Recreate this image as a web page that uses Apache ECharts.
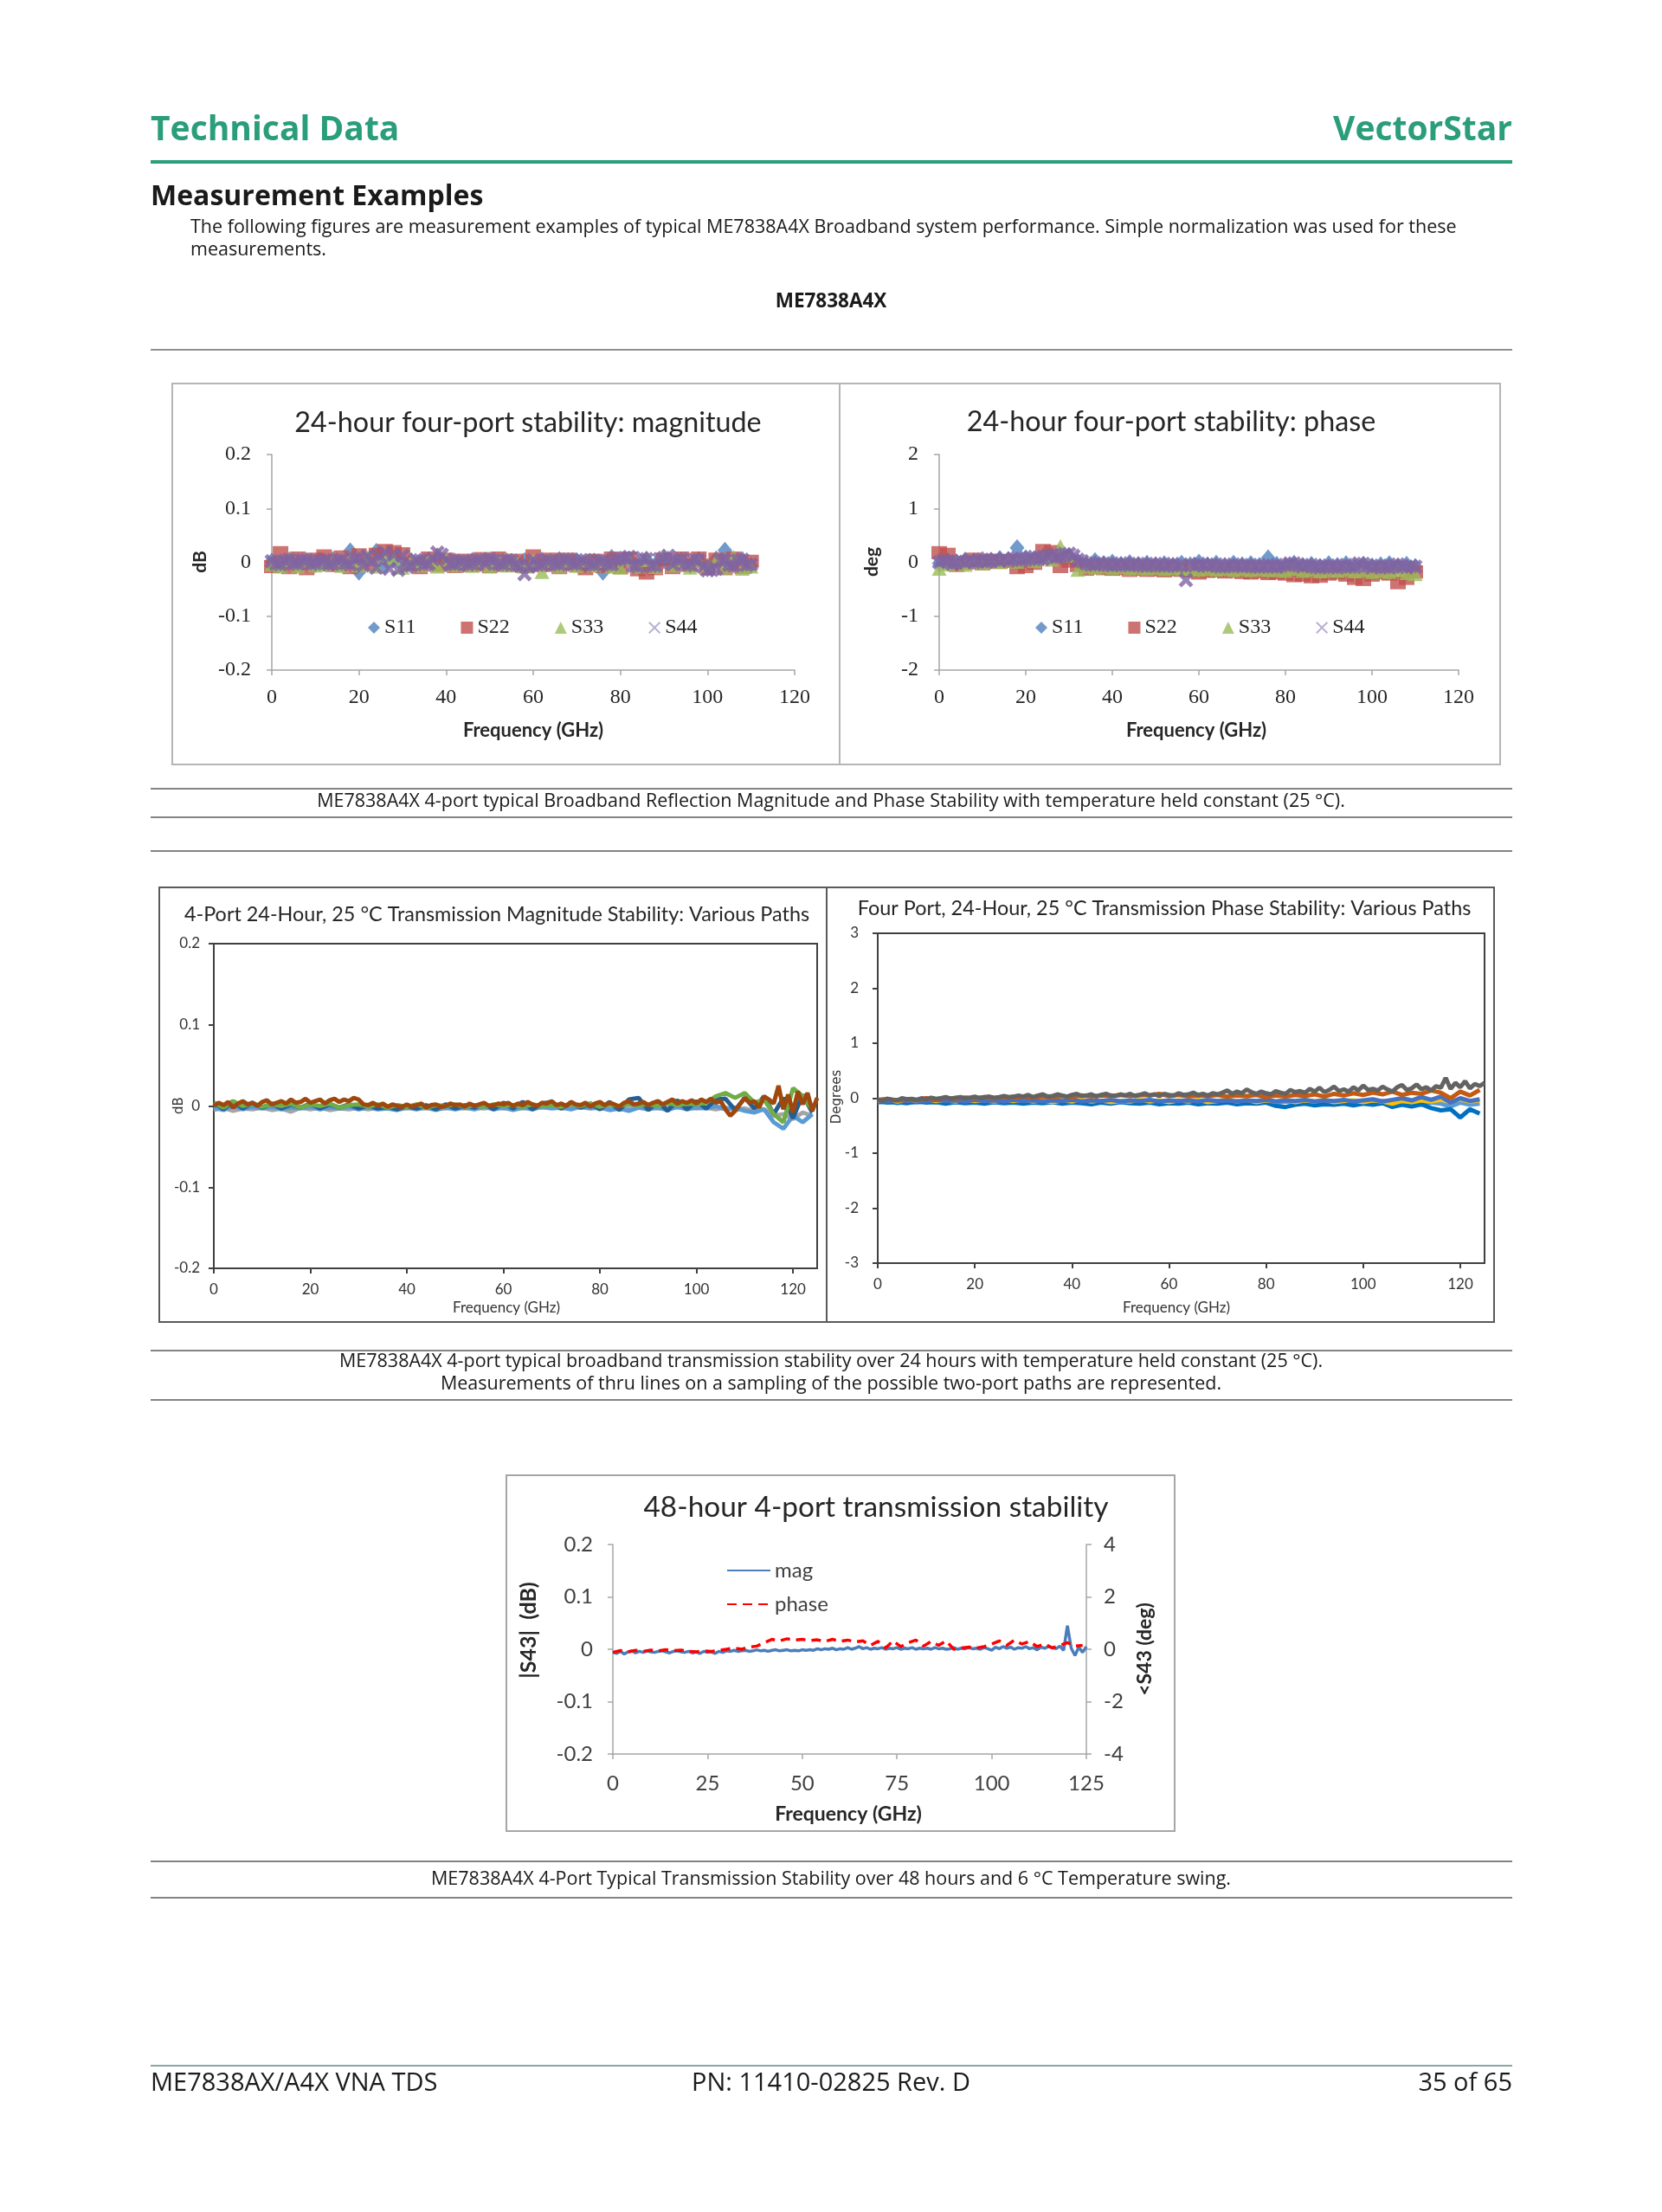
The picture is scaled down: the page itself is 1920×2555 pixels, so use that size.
<!DOCTYPE html>
<html><head><meta charset="utf-8">
<script src="https://cdn.jsdelivr.net/npm/echarts@6/dist/echarts.min.js"></script>
<style>html,body{margin:0;padding:0;background:#fff;}#c{width:1920px;height:2555px;}</style>
</head><body><div id="c"></div><script>
// ---------- DATA ----------
const freqR = [0,2,4,6,8,10,12,14,16,18,20,22,24,26,28,30,32,34,36,38,40,42,44,46,48,50,52,54,56,58,60,62,64,66,68,70,72,74,76,78,80,82,84,86,88,90,92,94,96,98,100,102,104,106,108,110];
const freqR1 = [0,1,2,3,4,5,6,7,8,9,10,11,12,13,14,15,16,17,18,19,20,21,22,23,24,25,26,27,28,29,30,31,32,33,34,35,36,37,38,39,40,41,42,43,44,45,46,47,48,49,50,51,52,53,54,55,56,57,58,59,60,61,62,63,64,65,66,67,68,69,70,71,72,73,74,75,76,77,78,79,80,81,82,83,84,85,86,87,88,89,90,91,92,93,94,95,96,97,98,99,100,101,102,103,104,105,106,107,108,109,110];
const magS11 = [0.002,-0.003,0.004,-0.002,0.003,-0.004,0.002,0.005,-0.003,0.021,
 -0.018,0.004,0.020,-0.006,0.008,-0.004,0.003,-0.002,0.004,0.006,
 -0.003,0.002,-0.004,0.003,-0.002,0.004,-0.003,0.002,-0.004,0.003,
 -0.005,0.004,-0.003,0.005,-0.002,0.003,-0.004,0.002,-0.018,0.009,
 -0.004,0.006,-0.003,0.004,-0.005,0.003,-0.002,0.004,-0.006,0.005,
 -0.008,0.006,0.022,-0.004,0.005,-0.006];
const magS22 = [-0.008,0.018,-0.010,0.008,-0.012,0.006,0.012,-0.006,0.010,-0.010,
 0.014,-0.004,0.015,0.022,0.020,0.016,-0.004,-0.010,0.008,-0.006,
 0.006,-0.008,0.004,-0.006,0.007,-0.008,0.008,-0.006,0.004,-0.008,
 0.012,-0.006,0.006,-0.010,0.006,-0.006,-0.012,0.004,-0.008,0.008,
 -0.010,0.008,-0.014,-0.020,-0.012,0.006,-0.010,0.008,-0.006,0.008,
 -0.012,0.006,-0.012,0.008,-0.010,0.002];
const magS33 = [-0.004,-0.008,0.004,-0.008,0.002,-0.006,-0.004,0.003,-0.007,0.004,
 -0.006,0.010,-0.008,0.012,0.006,-0.010,0.003,-0.006,0.004,-0.008,
 0.005,-0.006,0.002,-0.007,0.003,-0.008,0.004,-0.006,0.002,-0.008,
 0.004,-0.018,0.003,-0.008,0.002,-0.007,0.003,-0.006,0.002,-0.008,
 -0.010,0.006,-0.008,0.004,-0.009,0.012,-0.006,0.004,-0.010,0.003,
 -0.008,0.004,-0.010,0.010,-0.012,-0.008];
const magS44 = [0.002,-0.003,-0.004,0.003,0.005,-0.002,-0.003,0.004,0.004,-0.003,
 -0.002,0.003,0.004,-0.004,-0.003,0.003,0.005,-0.002,-0.004,0.006,
 0.008,-0.006,0.012,0.003,-0.010,0.010,0.018,-0.012,0.014,-0.014,
 0.012,-0.008,-0.006,0.004,0.004,-0.004,-0.003,0.006,0.018,0.014,
 0.005,-0.003,-0.004,0.002,0.003,-0.004,-0.003,0.004,0.004,-0.003,
 0.006,0.004,-0.003,-0.004,0.004,0.003,-0.004,-0.006,-0.022,-0.008,
 0.004,-0.004,-0.005,0.004,0.003,-0.003,-0.004,0.005,0.005,-0.003,
 -0.003,0.004,0.004,-0.004,-0.005,0.003,0.003,-0.004,-0.004,0.005,
 0.006,0.008,0.010,-0.006,-0.008,0.008,0.006,-0.006,-0.006,0.006,
 0.008,0.012,-0.004,0.004,0.006,-0.005,-0.004,0.005,0.004,-0.008,
 -0.015,-0.014,-0.012,0.003,0.004,-0.005,-0.006,0.004,0.005,-0.005,
 -0.004];
const phS11 = [-0.02,0.03,0.00,0.04,0.02,0.05,0.03,0.07,0.05,0.27,
 0.08,0.06,0.10,0.12,0.14,0.12,0.02,-0.04,0.03,-0.03,
 0.00,-0.04,-0.01,-0.05,-0.02,-0.05,-0.03,-0.06,-0.02,-0.05,
 0.00,-0.05,-0.02,-0.06,-0.02,-0.05,-0.03,-0.06,0.08,-0.04,
 -0.07,-0.02,-0.06,-0.04,-0.08,-0.03,-0.06,-0.03,-0.08,-0.04,
 -0.07,-0.05,-0.03,-0.07,-0.04,-0.08];
const phS22 = [0.18,0.15,-0.06,-0.02,0.06,-0.03,0.04,0.00,0.03,-0.10,
 -0.08,-0.02,0.22,0.20,-0.08,0.02,-0.06,-0.13,-0.10,-0.12,
 -0.13,-0.12,-0.15,-0.13,-0.15,-0.14,-0.16,-0.14,-0.15,-0.16,
 -0.20,-0.17,-0.16,-0.18,-0.17,-0.19,-0.20,-0.18,-0.21,-0.20,
 -0.22,-0.25,-0.24,-0.27,-0.26,-0.22,-0.20,-0.24,-0.30,-0.32,
 -0.24,-0.20,-0.22,-0.38,-0.30,-0.18];
const phS33 = [-0.12,-0.04,0.02,-0.05,0.03,-0.02,0.04,0.00,0.05,0.01,
 0.06,0.02,0.08,0.05,0.30,0.12,-0.14,-0.08,-0.10,-0.08,
 -0.11,-0.09,-0.12,-0.10,-0.12,-0.10,-0.13,-0.11,-0.13,-0.12,
 -0.14,-0.12,-0.14,-0.12,-0.15,-0.13,-0.15,-0.13,-0.15,-0.14,
 -0.16,-0.12,-0.16,-0.14,-0.17,-0.15,-0.16,-0.14,-0.17,-0.15,
 -0.18,-0.16,-0.18,-0.15,-0.20,-0.22];
const phS44 = [0.00,0.04,0.02,-0.03,-0.01,0.03,0.01,0.04,0.00,0.02,
 0.05,0.01,0.02,0.06,0.03,0.06,0.03,0.07,0.08,0.04,
 0.05,0.09,0.10,0.06,0.06,0.12,0.14,0.09,0.10,0.15,
 0.16,0.12,0.05,0.02,-0.02,-0.04,-0.05,-0.01,-0.02,-0.05,
 -0.06,-0.03,-0.02,-0.05,-0.06,-0.02,-0.03,-0.06,-0.07,-0.03,
 -0.03,-0.06,-0.07,-0.04,-0.03,-0.07,-0.06,-0.33,-0.04,-0.06,
 -0.03,-0.05,-0.07,-0.04,-0.04,-0.08,-0.08,-0.05,-0.04,-0.07,
 -0.08,-0.05,-0.05,-0.08,-0.09,-0.06,-0.05,-0.08,-0.09,-0.06,
 -0.05,-0.02,-0.02,-0.06,-0.08,-0.05,-0.05,-0.09,-0.10,-0.06,
 -0.06,-0.09,-0.10,-0.06,-0.05,-0.08,-0.09,-0.02,-0.03,-0.07,
 -0.10,-0.07,-0.06,-0.09,-0.10,-0.05,-0.04,-0.08,-0.09,-0.07,
 -0.08];

const freqT = [0,2,4,6,8,10,12,14,16,18,20,22,24,26,28,30,32,34,36,38,40,42,44,46,48,50,52,54,56,58,60,62,64,66,68,70,72,74,76,78,80,82,84,86,88,90,92,94,96,98,100,102,104,106,108,110,112,114,116,118,120,122,124];
const freqT1 = [0,1,2,3,4,5,6,7,8,9,10,11,12,13,14,15,16,17,18,19,20,21,22,23,24,25,26,27,28,29,30,31,32,33,34,35,36,37,38,39,40,41,42,43,44,45,46,47,48,49,50,51,52,53,54,55,56,57,58,59,60,61,62,63,64,65,66,67,68,69,70,71,72,73,74,75,76,77,78,79,80,81,82,83,84,85,86,87,88,89,90,91,92,93,94,95,96,97,98,99,100,101,102,103,104,105,106,107,108,109,110,111,112,113,114,115,116,117,118,119,120,121,122,123,124,125];
const tmGray = [-0.005,-0.002,-0.006,-0.003,-0.004,-0.002,-0.005,-0.003,-0.007,-0.002,
 -0.004,-0.002,-0.005,-0.003,-0.004,-0.002,-0.004,-0.002,-0.003,-0.002,
 -0.003,-0.001,-0.003,-0.002,-0.003,-0.001,-0.003,-0.002,-0.003,-0.001,
 -0.003,-0.002,-0.003,-0.001,-0.002,-0.001,-0.003,-0.001,-0.002,-0.001,
 -0.003,-0.002,-0.003,-0.001,-0.002,-0.001,-0.003,-0.001,-0.002,-0.001,
 -0.003,-0.002,-0.004,-0.002,-0.005,-0.003,-0.006,-0.004,-0.012,-0.010,
 -0.016,-0.008,-0.012];
const tmLtBlue = [-0.002,-0.005,0.000,-0.004,-0.001,-0.003,-0.001,-0.004,-0.002,-0.003,
 -0.001,-0.004,-0.002,-0.003,-0.001,-0.004,-0.002,-0.004,-0.003,-0.005,
 -0.002,-0.004,-0.002,-0.005,-0.002,-0.004,-0.002,-0.004,-0.001,-0.004,
 -0.002,-0.005,-0.002,-0.004,-0.001,-0.003,-0.002,-0.004,-0.001,-0.003,
 -0.002,-0.005,-0.003,-0.006,-0.002,-0.004,-0.002,-0.005,-0.001,-0.004,
 -0.002,-0.003,0.000,-0.004,-0.002,-0.006,-0.008,-0.004,-0.020,-0.028,
 -0.012,-0.020,-0.010];
const tmDkBlue = [0.004,-0.004,0.006,-0.003,0.004,-0.002,0.003,-0.003,0.002,-0.002,
 0.003,-0.003,0.002,-0.002,0.002,-0.003,0.001,-0.003,-0.001,-0.004,
 0.000,-0.003,0.001,-0.004,0.002,-0.003,0.001,-0.002,0.003,-0.004,
 0.004,-0.003,0.005,-0.004,0.003,0.005,-0.003,0.004,-0.002,0.003,
 -0.004,0.005,-0.005,0.008,0.010,-0.005,0.006,-0.006,0.007,-0.004,
 0.006,-0.003,0.008,0.009,-0.005,0.010,-0.003,0.012,-0.010,0.010,
 -0.015,0.014,-0.008];
const tmGreen = [0.004,-0.002,0.006,0.000,0.003,-0.001,0.002,0.000,0.003,-0.002,
 0.002,0.000,0.003,-0.002,0.001,0.002,-0.001,0.002,-0.002,0.001,
 -0.001,0.002,-0.002,0.001,0.000,0.002,-0.001,0.001,-0.001,0.002,
 0.000,0.001,-0.001,0.002,0.000,0.001,-0.001,0.002,0.000,0.003,
 -0.001,0.002,0.000,0.003,0.001,0.002,0.000,0.004,0.001,0.003,
 0.002,0.004,0.012,0.016,0.010,0.016,0.004,0.008,-0.010,-0.020,
 0.022,0.012,-0.004];
const tmBrown = [0.000,0.004,0.001,0.005,-0.002,0.003,0.006,0.002,0.004,0.000,
 0.005,0.007,0.002,0.004,0.006,0.003,0.008,0.004,0.005,0.009,
 0.004,0.006,0.008,0.003,0.007,0.009,0.005,0.008,0.006,0.010,
 0.008,0.002,0.001,0.004,0.000,0.003,-0.001,0.002,0.000,-0.001,
 0.002,-0.001,0.001,0.003,-0.002,0.001,0.002,-0.001,0.000,0.003,
 0.001,0.002,-0.001,0.003,0.000,0.002,0.004,0.000,0.001,0.003,
 0.002,0.004,0.000,0.003,0.001,0.005,0.002,0.000,0.004,0.003,
 0.006,0.001,0.003,0.000,0.005,0.002,0.001,0.004,-0.001,0.003,
 0.005,0.001,0.004,0.002,-0.001,0.004,0.006,0.002,0.003,0.005,
 0.001,0.004,0.006,0.002,0.005,0.008,0.003,0.006,0.004,0.007,
 0.003,0.008,0.005,0.009,0.004,0.006,-0.004,-0.012,-0.006,0.002,
 0.010,0.004,0.006,-0.002,0.012,0.008,0.003,0.025,-0.004,0.014,
 -0.008,0.018,0.002,0.016,-0.006,0.010];

const tpLtBlue = [-0.08,-0.05,-0.09,-0.06,-0.08,-0.05,-0.07,-0.06,-0.08,-0.05,
 -0.07,-0.06,-0.08,-0.05,-0.07,-0.06,-0.07,-0.05,-0.08,-0.06,
 -0.07,-0.05,-0.08,-0.06,-0.07,-0.05,-0.08,-0.06,-0.07,-0.05,
 -0.08,-0.06,-0.07,-0.05,-0.08,-0.06,-0.07,-0.05,-0.08,-0.06,
 -0.07,-0.09,-0.06,-0.08,-0.06,-0.07,-0.05,-0.08,-0.06,-0.07,
 -0.06,-0.09,-0.05,-0.08,-0.10,-0.07,-0.12,-0.08,-0.10,-0.15,
 -0.08,-0.12,-0.10];
const tpBlue = [-0.06,-0.08,-0.07,-0.09,-0.06,-0.08,-0.07,-0.10,-0.07,-0.09,
 -0.08,-0.10,-0.07,-0.09,-0.08,-0.10,-0.08,-0.09,-0.07,-0.10,
 -0.08,-0.09,-0.11,-0.08,-0.10,-0.07,-0.09,-0.10,-0.08,-0.11,
 -0.09,-0.10,-0.08,-0.11,-0.09,-0.10,-0.08,-0.11,-0.09,-0.10,
 -0.08,-0.14,-0.16,-0.12,-0.10,-0.13,-0.11,-0.12,-0.10,-0.13,
 -0.10,-0.12,-0.09,-0.16,-0.12,-0.15,-0.11,-0.18,-0.22,-0.20,
 -0.35,-0.20,-0.28];
const tpYellow = [-0.05,-0.03,-0.06,-0.04,-0.05,-0.03,-0.05,-0.04,-0.06,-0.03,
 -0.05,-0.04,-0.06,-0.04,-0.05,-0.03,-0.06,-0.04,-0.07,-0.04,
 -0.06,-0.03,-0.06,-0.04,-0.07,-0.05,-0.06,-0.03,-0.06,-0.04,
 -0.07,-0.04,-0.06,-0.03,-0.07,-0.05,-0.02,-0.06,-0.03,-0.07,
 -0.04,-0.06,-0.03,-0.07,-0.04,-0.06,-0.03,-0.07,-0.05,-0.04,
 -0.07,-0.04,-0.06,-0.10,-0.05,-0.07,-0.04,-0.06,-0.03,-0.05,
 -0.02,-0.06,-0.04];
const tpMidBlue = [-0.04,-0.06,-0.03,-0.05,-0.04,-0.06,-0.03,-0.05,-0.04,-0.06,
 -0.03,-0.05,-0.04,-0.06,-0.03,-0.05,-0.04,-0.06,-0.04,-0.05,
 -0.03,-0.06,-0.04,-0.05,-0.03,-0.06,-0.04,-0.05,-0.03,-0.06,
 -0.04,-0.05,-0.04,-0.06,-0.03,-0.05,-0.04,-0.06,-0.04,-0.05,
 -0.03,-0.06,-0.04,-0.05,-0.03,-0.06,-0.04,-0.05,-0.03,-0.06,
 -0.04,-0.02,-0.06,-0.03,0.00,-0.04,0.02,-0.03,0.03,-0.08,
 0.00,-0.05,-0.02];
const tpBrown = [-0.03,-0.01,-0.04,-0.02,-0.03,0.00,-0.02,0.01,-0.01,0.01,
 0.00,0.02,0.00,0.02,0.01,0.03,0.01,0.03,0.02,0.04,
 0.02,0.05,0.03,0.05,0.04,0.06,0.04,0.06,0.05,0.08,
 0.04,0.06,0.03,0.05,0.04,0.06,0.03,0.05,0.04,0.06,
 0.02,0.05,0.03,0.06,0.04,0.07,0.03,0.08,0.05,0.09,
 0.06,0.10,0.07,0.12,0.06,0.10,0.08,0.14,0.10,0.00,
 0.12,0.05,0.15];
const tpGray = [-0.02,-0.05,-0.01,-0.03,-0.04,0.00,-0.02,-0.01,-0.03,0.00,
 -0.02,0.01,-0.01,0.00,0.02,-0.01,0.01,0.02,0.00,0.01,
 0.03,0.00,0.02,0.03,0.01,0.02,0.04,0.02,0.03,0.05,
 0.03,0.06,0.02,0.05,0.07,0.03,0.04,0.07,0.05,0.03,
 0.06,0.08,0.04,0.05,0.07,0.03,0.06,0.08,0.05,0.04,
 0.07,0.05,0.08,0.04,0.06,0.09,0.05,0.07,0.04,0.08,
 0.06,0.05,0.09,0.06,0.07,0.10,0.06,0.08,0.05,0.09,
 0.07,0.10,0.14,0.08,0.12,0.09,0.16,0.11,0.08,0.12,
 0.09,0.07,0.13,0.10,0.08,0.15,0.11,0.13,0.10,0.17,
 0.12,0.19,0.11,0.15,0.21,0.13,0.16,0.12,0.20,0.14,
 0.23,0.15,0.17,0.14,0.21,0.16,0.12,0.20,0.24,0.15,
 0.18,0.25,0.16,0.20,0.14,0.22,0.19,0.37,0.17,0.28,
 0.20,0.31,0.18,0.26,0.22,0.28];

const freq48 = freqT1;
const mag48 = [-0.005,-0.008,-0.004,-0.009,-0.005,-0.003,-0.007,-0.004,-0.006,-0.003,
 -0.005,-0.006,-0.004,-0.003,-0.005,-0.007,-0.004,-0.003,-0.005,-0.006,
 -0.004,-0.007,-0.005,-0.008,-0.004,-0.006,-0.005,-0.008,-0.004,-0.006,
 -0.003,-0.004,-0.002,-0.004,-0.003,-0.002,-0.004,-0.003,-0.001,-0.003,
 -0.002,-0.004,-0.002,-0.001,-0.003,-0.002,-0.001,-0.003,-0.002,-0.003,
 -0.001,-0.002,-0.001,-0.002,0.001,-0.001,0.001,0.000,0.002,-0.001,
 0.001,0.000,0.003,0.000,0.002,0.005,0.001,0.003,0.000,0.002,
 0.001,0.003,0.000,0.002,0.001,0.003,0.000,0.002,0.001,0.003,
 0.000,0.002,0.001,0.002,0.000,0.003,0.001,0.002,0.000,0.001,
 0.003,0.000,0.002,0.001,0.003,0.001,0.002,0.000,0.003,0.001,
 -0.002,0.004,0.001,0.005,0.002,0.004,0.000,0.003,0.002,0.005,
 0.001,0.003,-0.001,0.004,0.002,0.005,0.003,0.001,0.006,-0.002,
 0.045,0.002,-0.012,0.004,-0.006,0.005];
const phase48 = [-0.12,-0.05,-0.10,-0.04,-0.08,-0.03,-0.06,-0.02,-0.05,-0.03,
 -0.08,-0.10,-0.06,-0.08,-0.04,0.00,0.05,0.00,0.08,0.12,
 0.25,0.38,0.32,0.40,0.35,0.38,0.33,0.36,0.30,0.38,
 0.30,0.35,0.28,0.32,0.15,0.30,0.05,0.32,0.10,0.25,
 0.35,0.12,0.30,0.15,0.32,0.00,0.05,0.08,0.05,0.10,
 0.20,0.32,0.15,0.35,0.20,0.30,0.10,0.20,0.05,0.15,
 0.25,0.12,0.15];

// ---------- BUILD ----------
const pair = (xs, ys) => xs.map((x, i) => [x, ys[i]]);
const xPath = 'path://M2,0 L5,3 L8,0 L10,2 L7,5 L10,8 L8,10 L5,7 L2,10 L0,8 L3,5 L0,2 Z';
const xPathLeg = 'path://M1,0 L5,4 L9,0 L10,1 L6,5 L10,9 L9,10 L5,6 L1,10 L0,9 L4,5 L0,1 Z';
const SERIF = 'Liberation Serif', CAL = 'Lato';

function axisCommon(color, w, font, size, margin, labelColor) {
  return {
    axisLine: {show: true, onZero: false, lineStyle: {color: color, width: w}},
    axisTick: {show: true, inside: false, length: 6, lineStyle: {color: color, width: w}},
    splitLine: {show: false},
    axisLabel: {fontFamily: font, fontSize: size, color: labelColor, margin: margin}
  };
}
function xA(grid, max, interval, style, extra) {
  const a = Object.assign({gridIndex: grid, type: 'value', min: 0, max: max, interval: interval}, style);
  if (extra) a.axisLabel = Object.assign({}, a.axisLabel, extra);
  return a;
}
function yA(grid, min, max, interval, style, pos) {
  return Object.assign({gridIndex: grid, type: 'value', min: min, max: max, interval: interval, position: pos || 'left'}, style);
}

const s12x = axisCommon('#a6a6a6', 1.5, SERIF, 24, 20, '#262626');
const s12y = axisCommon('#a6a6a6', 1.5, SERIF, 24, 24, '#262626');
const s34x = axisCommon('#404040', 2, CAL, 17, 16, '#333333');
const s34y = axisCommon('#404040', 2, CAL, 17, 16, '#333333');
const s4y = axisCommon('#404040', 2, CAL, 17, 22, '#333333');
const s5x = axisCommon('#a6a6a6', 1.5, CAL, 24, 22, '#404040');
const s5y = axisCommon('#a6a6a6', 1.5, CAL, 24, 23, '#404040');
const s5yr = axisCommon('#a6a6a6', 1.5, CAL, 24, 20, '#404040');

const refl = [
  {name: 'S11', sym: 'diamond', size: [17, 20], color: '#4f81bd', xs: freqR, mag: magS11, ph: phS11},
  {name: 'S22', sym: 'rect', size: [18, 15], color: '#c0504d', xs: freqR, mag: magS22, ph: phS22},
  {name: 'S33', sym: 'triangle', size: [17, 16], color: '#9bbb59', xs: freqR, mag: magS33, ph: phS33},
  {name: 'S44', sym: xPath, size: [17, 17], color: '#8064a2', xs: freqR1, mag: magS44, ph: phS44}
];
const series = [];
refl.forEach(r => {
  series.push({type: 'scatter', name: r.name, xAxisIndex: 0, yAxisIndex: 0, symbol: r.sym, symbolSize: r.size,
    itemStyle: {color: r.color}, data: pair(r.xs, r.mag)});
});
refl.forEach(r => {
  series.push({type: 'scatter', name: r.name, xAxisIndex: 1, yAxisIndex: 1, symbol: r.sym, symbolSize: r.size,
    itemStyle: {color: r.color}, data: pair(r.xs, r.ph)});
});
const tMag = [
  ['#a5a5a5', freqT, tmGray], ['#5b9bd5', freqT, tmLtBlue], ['#255e91', freqT, tmDkBlue], ['#70ad47', freqT, tmGreen], ['#9e480e', freqT1, tmBrown]
];
tMag.forEach(t => series.push({type: 'line', xAxisIndex: 2, yAxisIndex: 2, symbol: 'none', silent: true,
  lineStyle: {color: t[0], width: 5}, data: pair(t[1], t[2])}));
const tPh = [
  ['#5b9bd5', freqT, tpLtBlue], ['#0070c0', freqT, tpBlue], ['#ffc000', freqT, tpYellow], ['#4472c4', freqT, tpMidBlue], ['#c55a11', freqT, tpBrown], ['#636363', freqT1, tpGray]
];
tPh.forEach(t => series.push({type: 'line', xAxisIndex: 3, yAxisIndex: 3, symbol: 'none', silent: true,
  lineStyle: {color: t[0], width: 5}, data: pair(t[1], t[2])}));
series.push({type: 'line', name: 'mag', xAxisIndex: 4, yAxisIndex: 4, symbol: 'none', showSymbol: false,
  lineStyle: {color: '#4a7ebb', width: 3.5}, itemStyle: {color: '#4a7ebb'}, data: pair(freq48, mag48)});
series.push({type: 'line', name: 'phase', xAxisIndex: 4, yAxisIndex: 5, symbol: 'none', showSymbol: false,
  lineStyle: {color: '#ff0000', width: 3.5, type: [11, 7]}, itemStyle: {color: '#ff0000'}, data: pair(freqT, phase48)});

// ---------- PAGE GRAPHICS ----------
const G = [];
function txt(x, y, text, font, fill, align, valign, rot) {
  G.push({type: 'text', x: x, y: y, rotation: rot || 0, silent: true,
    style: {text: text, font: font, fill: fill, textAlign: align || 'left', textVerticalAlign: valign || 'middle',
      align: align || 'left', verticalAlign: valign || 'middle'}});
}
function hline(x1, x2, y, color, w) {
  G.push({type: 'line', silent: true, shape: {x1: x1, y1: y, x2: x2, y2: y}, style: {stroke: color, lineWidth: w}});
}
function vline(x, y1, y2, color, w) {
  G.push({type: 'line', silent: true, shape: {x1: x, y1: y1, x2: x, y2: y2}, style: {stroke: color, lineWidth: w}});
}
function box(x, y, w, h, color, lw) {
  G.push({type: 'rect', silent: true, shape: {x: x, y: y, width: w, height: h}, style: {fill: 'none', stroke: color, lineWidth: lw}});
}
const GREEN = '#2a9d7b', DARK = '#1a1a1a', R90 = Math.PI / 2;
const CAP = '21.5px "Open Sans"';
txt(174, 151, 'Technical Data', 'bold 39px "Open Sans"', GREEN);
txt(1747, 151, 'VectorStar', 'bold 39px "Open Sans"', GREEN, 'right');
hline(174, 1747, 187, GREEN, 4);
txt(174, 228, 'Measurement Examples', 'bold 32px "Open Sans"', DARK);
txt(220, 263, 'The following figures are measurement examples of typical ME7838A4X Broadband system performance. Simple normalization was used for these', '21.5px "Open Sans"', DARK);
txt(220, 289, 'measurements.', '21.5px "Open Sans"', DARK);
txt(960, 349, 'ME7838A4X', 'bold 22.5px "Open Sans"', DARK, 'center');
hline(174, 1747, 404, '#6a6a6a', 1.5);

// chart boxes
box(199, 443, 771, 440, '#b5b5b5', 2);
box(970, 443, 763, 440, '#b5b5b5', 2);
txt(610, 489, '24-hour four-port stability: magnitude', '32.3px Lato', '#262626', 'center');
txt(1353, 488, '24-hour four-port stability: phase', '32.3px Lato', '#262626', 'center');
txt(231, 649, 'dB', 'bold 21px Lato', '#262626', 'center', 'middle', R90);
txt(1007, 649, 'deg', 'bold 21px Lato', '#262626', 'center', 'middle', R90);
txt(616, 844, 'Frequency (GHz)', 'bold 22px Lato', '#262626', 'center');
txt(1382, 844, 'Frequency (GHz)', 'bold 22px Lato', '#262626', 'center');

hline(174, 1747, 911, '#5a5a5a', 1.5);
txt(960, 926, 'ME7838A4X 4-port typical Broadband Reflection Magnitude and Phase Stability with temperature held constant (25 °C).', CAP, DARK, 'center');
hline(174, 1747, 944, '#5a5a5a', 1.5);
hline(174, 1747, 983, '#5a5a5a', 1.5);

box(184, 1025, 1542, 502, '#5a5a5a', 2);
vline(955, 1025, 1527, '#5a5a5a', 2);
txt(574, 1056, '4-Port 24-Hour, 25 °C Transmission Magnitude Stability: Various Paths', '23.4px Lato', '#262626', 'center');
txt(1345, 1049, 'Four Port, 24-Hour, 25 °C Transmission Phase Stability: Various Paths', '23.4px Lato', '#262626', 'center');
txt(207, 1277, 'dB', '15px "DejaVu Sans"', '#333333', 'center', 'middle', R90);
txt(967, 1267, 'Degrees', '15px "DejaVu Sans"', '#333333', 'center', 'middle', R90);
txt(585, 1511, 'Frequency (GHz)', '17px Lato', '#333333', 'center');
txt(1359, 1511, 'Frequency (GHz)', '17px Lato', '#333333', 'center');

hline(174, 1747, 1560, '#5a5a5a', 1.5);
txt(960, 1573, 'ME7838A4X 4-port typical broadband transmission stability over 24 hours with temperature held constant (25 °C).', CAP, DARK, 'center');
txt(960, 1599, 'Measurements of thru lines on a sampling of the possible two-port paths are represented.', CAP, DARK, 'center');
hline(174, 1747, 1617, '#5a5a5a', 1.5);

box(585, 1704, 772, 411, '#a6a6a6', 2);
txt(1012, 1741, '48-hour 4-port transmission stability', '33.4px Lato', '#262626', 'center');
txt(611, 1883, '|S43|  (dB)', 'bold 25px Lato', '#262626', 'center', 'middle', R90);
txt(1323, 1905, '<S43 (deg)', 'bold 23px Lato', '#262626', 'center', 'middle', R90);
txt(980, 2096, 'Frequency (GHz)', 'bold 23px Lato', '#262626', 'center');

hline(174, 1747, 2150, '#5a5a5a', 1.5);
txt(960, 2171, 'ME7838A4X 4-Port Typical Transmission Stability over 48 hours and 6 °C Temperature swing.', CAP, DARK, 'center');
hline(174, 1747, 2192, '#5a5a5a', 1.5);

hline(174, 1747, 2386, '#8aa5a3', 2);
txt(174, 2407, 'ME7838AX/A4X VNA TDS', '29px "Open Sans"', DARK);
txt(799, 2407, 'PN: 11410-02825 Rev. D', '29px "Open Sans"', DARK);
txt(1747, 2407, '35 of 65', '29px "Open Sans"', DARK, 'right');

const legendReflData = [{name: 'S11', icon: 'diamond'}, {name: 'S22', icon: 'rect'}, {name: 'S33', icon: 'triangle'}, {name: 'S44', icon: xPathLeg, itemStyle: {color: '#a99cc8'}}];
const legTxt = {fontFamily: SERIF, fontSize: 24, color: '#262626'};

const option = {
  animation: false,
  backgroundColor: '#ffffff',
  grid: [
    {left: 314, top: 525, width: 604, height: 249},
    {left: 1085, top: 525, width: 600, height: 249},
    {left: 247, top: 1090, width: 697, height: 375, show: true, borderColor: '#404040', borderWidth: 2},
    {left: 1014, top: 1078, width: 701, height: 381, show: true, borderColor: '#404040', borderWidth: 2},
    {left: 708, top: 1784, width: 547, height: 242}
  ],
  xAxis: [
    xA(0, 120, 20, s12x),
    xA(1, 120, 20, s12x),
    xA(2, 125, 20, s34x, {showMaxLabel: false}),
    xA(3, 125, 20, s34x, {showMaxLabel: false}),
    xA(4, 125, 25, s5x)
  ],
  yAxis: [
    yA(0, -0.2, 0.2, 0.1, s12y),
    yA(1, -2, 2, 1, s12y),
    yA(2, -0.2, 0.2, 0.1, s34y),
    yA(3, -3, 3, 1, s4y),
    yA(4, -0.2, 0.2, 0.1, s5y),
    yA(4, -4, 4, 2, s5yr, 'right')
  ],
  legend: [
    {data: legendReflData, left: 420, top: 708, itemWidth: 14, itemHeight: 14, itemGap: 52, selectedMode: false, textStyle: legTxt},
    {data: legendReflData, left: 1191, top: 708, itemWidth: 14, itemHeight: 14, itemGap: 52, selectedMode: false, textStyle: legTxt},
    {data: ['mag', 'phase'], orient: 'vertical', left: 834, top: 1797, itemWidth: 50, itemHeight: 14, itemGap: 15, selectedMode: false,
      itemStyle: {opacity: 0}, textStyle: {fontFamily: CAL, fontSize: 24, color: '#404040'}}
  ],
  graphic: G,
  series: series
};
const chart = echarts.init(document.getElementById('c'), null, {renderer: 'canvas', width: 1920, height: 2555});
chart.setOption(option);
</script></body></html>
